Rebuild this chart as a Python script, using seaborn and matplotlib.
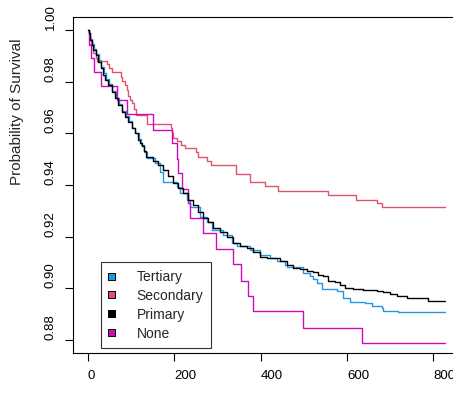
import numpy as np
import pandas as pd
import matplotlib
matplotlib.use("Agg")
import matplotlib.pyplot as plt
from matplotlib.patches import Patch
import seaborn as sns

# Kaplan-Meier survival estimates by education level (time, survival probability)
tertiary_t = [0, 2, 5, 9, 13, 19, 25, 31, 36, 41, 48, 56, 64, 72, 79, 87, 95, 102, 110, 118,
              124, 130, 136, 155.3, 166.9, 174.5, 205.5, 213.2, 228.7, 236.4, 259.6, 275, 286.6,
              313.6, 333, 344.6, 375.4, 398.6, 421.8, 437.3, 456.5, 460.5, 499, 514.5, 522.2,
              530, 541.6, 576.3, 591.7, 607.2, 642, 657.5, 680.6, 684.4, 719.1, 828]
tertiary_s = [1.0, .9987, .9965, .9945, .9928, .9908, .9885, .9858, .9832, .9810, .9790, .9762,
              .9738, .9712, .9686, .9667, .9646, .9622, .9601, .9578, .9556, .9528, .9504, .9484,
              .9452, .9413, .9394, .9368, .9342, .9316, .9278, .9258, .9226, .9207, .9175, .9162,
              .9149, .9130, .9117, .9104, .9091, .9082, .9059, .9048, .9036, .9020, .8997, .8988,
              .8962, .8949, .8943, .8930, .8923, .8914, .8910, .8910]

secondary_t = [0, 2, 5, 8, 12, 18, 22, 43, 49.5, 55, 76.5, 78, 86, 89.6, 93.5, 97.3, 101, 106.6,
               111, 137.5, 192.4, 195.5, 197.8, 205.5, 214.8, 224.8, 250.3, 255.7, 275, 285, 343,
               375.5, 410, 441, 555.5, 621, 669, 680.6, 828]
secondary_s = [1.0, .998, .996, .994, .991, .989, .988, .9867, .9852, .9836, .9819, .9803, .9787,
               .9768, .9745, .9729, .9716, .9693, .9671, .9636, .9620, .9600, .9581, .9572, .9555,
               .9545, .9526, .9510, .9491, .9478, .9443, .9411, .9397, .9377, .9362, .9342, .9330,
               .9313, .9313]

primary_t = [0, 1.5, 4.6, 8.5, 12.4, 18.5, 24, 29.3, 34, 39.4, 47.1, 54.8, 62.6, 70.3, 78, 85.7,
             93.5, 101.2, 108.9, 116.7, 120.5, 124.4, 129, 134.4, 151.4, 163, 174.5, 186, 197.8,
             209.3, 221, 232.4, 244, 255.6, 267.2, 278.8, 290.4, 306, 321.4, 336.7, 352.3, 367.7,
             383, 398.6, 414, 445, 460.5, 475.8, 491.3, 506.8, 522, 533.7, 545.3, 556.9, 572.4,
             584, 595.6, 614.8, 638, 669, 684.4, 700, 715.4, 738.6, 788.7, 828]
primary_s = [1.0, .9987, .9961, .9942, .9923, .9903, .9877, .9852, .9826, .9807, .9787, .9761,
             .9736, .9710, .9684, .9665, .9645, .9620, .9600, .9574, .9562, .9549, .9530, .9510,
             .9491, .9478, .9458, .9433, .9407, .9388, .9368, .9342, .9323, .9297, .9272, .9258,
             .9233, .9220, .9200, .9175, .9162, .9155, .9142, .9123, .9117, .9106, .9091, .9078,
             .9074, .9069, .9065, .9052, .9046, .9030, .9024, .9014, .9001, .8997, .8992, .8988,
             .8984, .8977, .8972, .8962, .8953, .8953]

none_t = [0, 3, 8, 13.9, 29.3, 66.4, 89.6, 151.4, 194, 205.5, 209, 217, 231, 236.4, 267.2,
          296.6, 335.3, 353.8, 370, 383, 497.5, 634, 828]
none_s = [1.0, .9942, .9890, .9839, .9783, .9727, .9674, .9613, .9562, .9500, .9446, .9384,
          .9330, .9272, .9214, .9153, .9094, .9030, .8972, .8913, .8848, .8788, .8788]

groups = ["Tertiary", "Secondary", "Primary", "None"]
colors = {"Tertiary": "#2297E6", "Secondary": "#DF536B", "Primary": "#000000", "None": "#CD0BBC"}
x_ticks = [0, 200, 400, 600, 800]
y_ticks = [0.88, 0.90, 0.92, 0.94, 0.96, 0.98, 1.00]

series = {
    "Tertiary": (tertiary_t, tertiary_s),
    "Secondary": (secondary_t, secondary_s),
    "Primary": (primary_t, primary_s),
    "None": (none_t, none_s),
}
df = pd.concat(
    [pd.DataFrame({"time": t, "surv": s, "group": g}) for g, (t, s) in series.items()],
    ignore_index=True,
)

sns.set_style("white")
plt.rcParams["font.family"] = ["Liberation Sans", "DejaVu Sans"]

fig = plt.figure(figsize=(4.53, 4.03), dpi=100)
ax = fig.add_axes([0.1611, 0.1248, 0.894, 0.8323])

for g in ["Tertiary", "Secondary", "None", "Primary"]:
    sns.lineplot(data=df[df["group"] == g], x="time", y="surv", color=colors[g],
                 estimator=None, drawstyle="steps-post", linewidth=1.0, ax=ax, legend=False)

ax.set_xlim(-34.8, 903.8)
ax.set_ylim(0.8751, 1.0049)
ax.set_xticks(x_ticks)
ax.set_xticklabels([str(v) for v in x_ticks], ha="left")
ax.set_yticks(y_ticks)
ax.set_yticklabels([f"{v:.2f}" for v in y_ticks], rotation=90, va="bottom")
ax.tick_params(direction="out", length=5.6, width=0.8, color="black",
               labelsize=9.5, labelcolor="black", bottom=True, left=True)
ax.tick_params(axis="x", pad=7)
ax.tick_params(axis="y", pad=6)
ax.set_xlabel("")
ax.set_ylabel("")
fig.text(16.7 / 453, 1 - 185 / 403, "Probability of Survival", rotation=90,
         ha="center", va="bottom", fontsize=11)

for sp in ax.spines.values():
    sp.set_visible(True)
    sp.set_color("black")
    sp.set_linewidth(0.8)

handles = [Patch(facecolor=colors[g], edgecolor="black", linewidth=0.7) for g in groups]
leg = ax.legend(handles, groups, loc="lower left", bbox_to_anchor=(0.0684, 0.0131),
                borderaxespad=0, fontsize=10, frameon=True, fancybox=False,
                handlelength=0.45, handleheight=0.4, handletextpad=1.6,
                labelspacing=0.35, borderpad=0.55)
leg.get_frame().set_edgecolor("black")
leg.get_frame().set_linewidth(0.8)

fig.savefig("out.png", dpi=100)
